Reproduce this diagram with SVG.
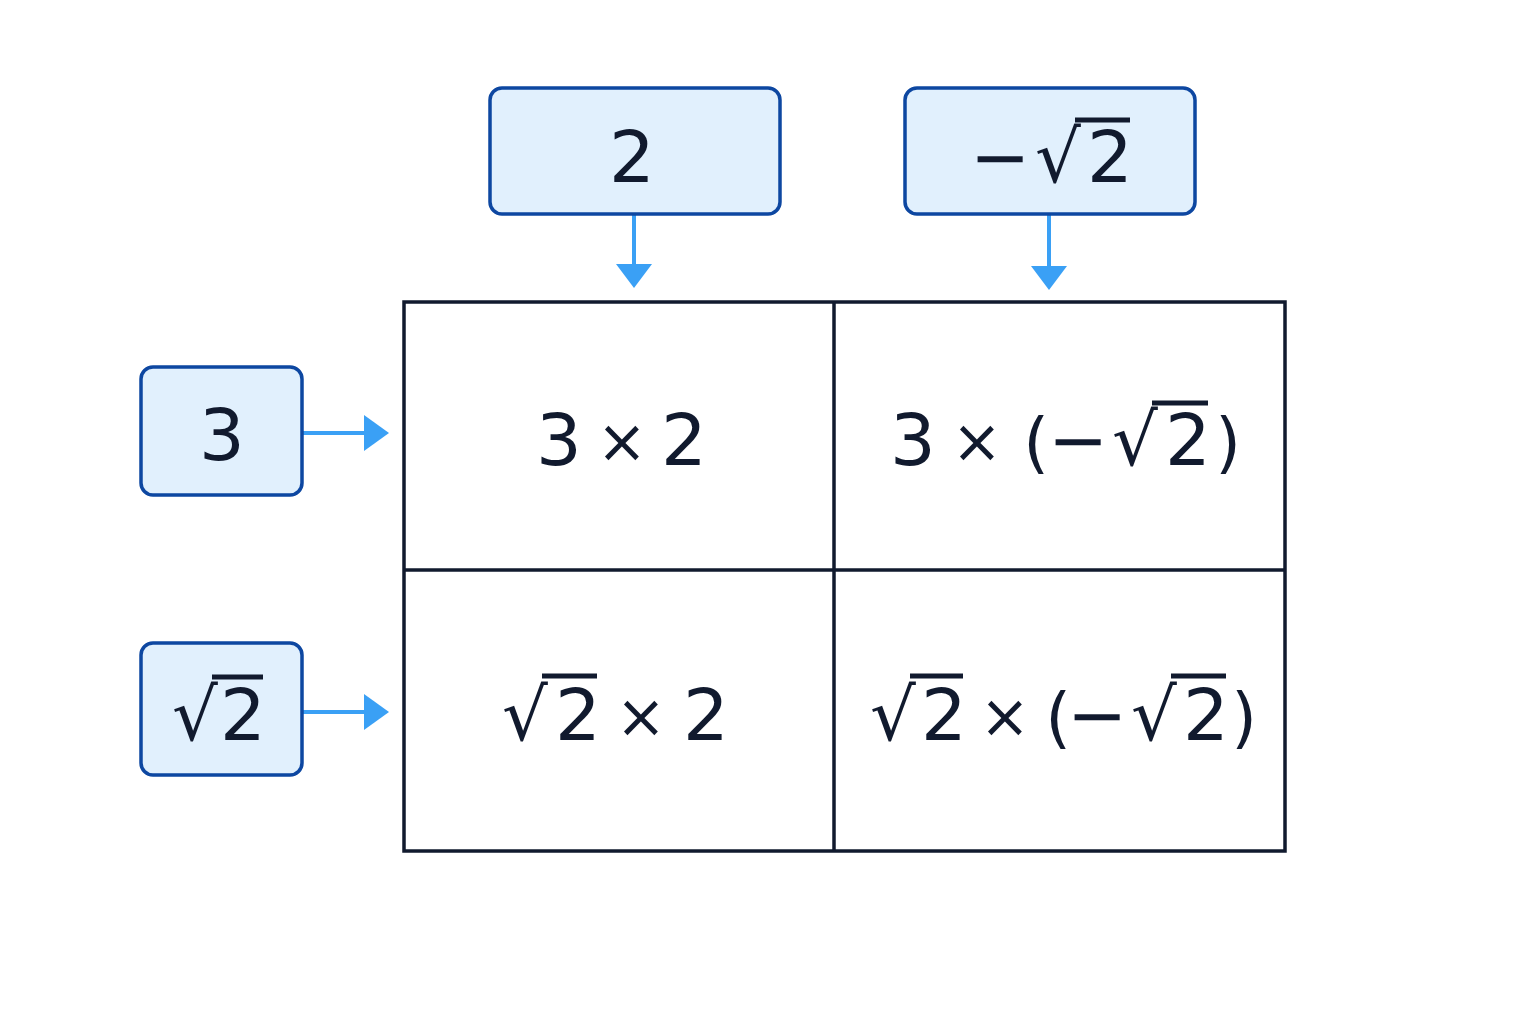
<svg xmlns="http://www.w3.org/2000/svg" width="1536" height="1024" viewBox="0 0 1536 1024">
<style>
.box{fill:#e1f0fd;stroke:#0d47a1;stroke-width:3.5}
.t{font-family:"DejaVu Sans","Noto Sans",sans-serif;font-size:72px;fill:#111a2e;text-anchor:middle}
.x{font-size:60px}
.p{font-size:66px}
.v{stroke:#111a2e;stroke-width:5}
.g{fill:none;stroke:#111a2e;stroke-width:3.5}
.c{stroke:#3aa0f5;stroke-width:4}
</style>
<rect width="1536" height="1024" fill="#fff"/>
<g id="connectors">
<line class="c" x1="634" y1="214" x2="634" y2="266"/><path d="M616,264h36l-18,24z" fill="#3aa0f5"/>
<line class="c" x1="1049" y1="214" x2="1049" y2="266"/><path d="M1031,266h36l-18,24z" fill="#3aa0f5"/>
<line class="c" x1="302" y1="433" x2="366" y2="433"/><path d="M364,415v36l25,-18z" fill="#3aa0f5"/>
<line class="c" x1="302" y1="712" x2="366" y2="712"/><path d="M364,694v36l25,-18z" fill="#3aa0f5"/>
</g>
<g id="col1"><rect class="box" x="490" y="88" width="290" height="126" rx="12"/><text class="t" x="632" y="182">2</text></g>
<g id="col2"><rect class="box" x="905" y="88" width="290" height="126" rx="12"/><text class="t" x="1000" y="182">−</text><text class="t" x="1058" y="182">√</text><text class="t" x="1110" y="182">2</text><line class="v" x1="1075" y1="120" x2="1130" y2="120"/></g>
<g id="row1"><rect class="box" x="141" y="367" width="161" height="128" rx="12"/><text class="t" x="222" y="460">3</text></g>
<g id="row2"><rect class="box" x="141" y="643" width="161" height="132" rx="12"/><text class="t" x="195" y="740">√</text><text class="t" x="243" y="740">2</text><line class="v" x1="212" y1="677" x2="263" y2="677"/></g>
<g id="grid">
<rect class="g" x="404" y="302" width="881" height="549"/>
<line class="g" x1="834" y1="302" x2="834" y2="851"/>
<line class="g" x1="404" y1="570" x2="1285" y2="570"/>
</g>
<g id="cell11"><text class="t" x="559" y="465">3</text><text class="t x" x="622" y="462">×</text><text class="t" x="684" y="465">2</text></g>
<g id="cell12"><text class="t" x="913" y="465">3</text><text class="t x" x="977" y="462">×</text><text class="t p" x="1036" y="465">(</text><text class="t" x="1078" y="465">−</text><text class="t" x="1135" y="465">√</text><text class="t" x="1188" y="465">2</text><line class="v" x1="1152" y1="403" x2="1208" y2="403"/><text class="t p" x="1228" y="465">)</text></g>
<g id="cell21"><text class="t" x="525" y="740">√</text><text class="t" x="578" y="740">2</text><line class="v" x1="542" y1="676" x2="597" y2="676"/><text class="t x" x="641" y="737">×</text><text class="t" x="706" y="740">2</text></g>
<g id="cell22"><text class="t" x="893" y="740">√</text><text class="t" x="944" y="740">2</text><line class="v" x1="910" y1="676" x2="963" y2="676"/><text class="t x" x="1005" y="737">×</text><text class="t p" x="1058" y="740">(</text><text class="t" x="1097" y="740">−</text><text class="t" x="1154" y="740">√</text><text class="t" x="1206" y="740">2</text><line class="v" x1="1171" y1="676" x2="1226" y2="676"/><text class="t p" x="1244" y="740">)</text></g>
</svg>
